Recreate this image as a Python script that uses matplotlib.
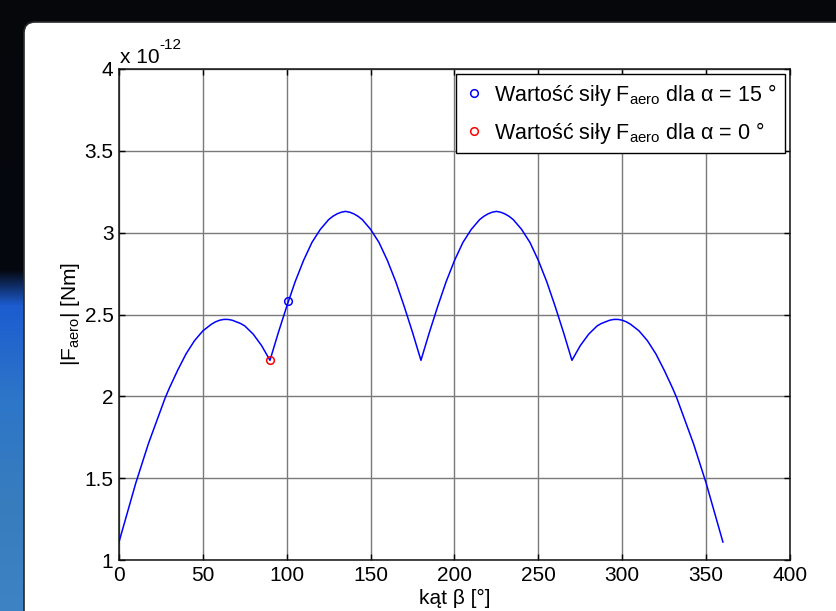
import numpy as np
import matplotlib
matplotlib.use('Agg')
from matplotlib import pyplot as plt
from matplotlib.patches import FancyBboxPatch
from matplotlib.transforms import IdentityTransform

plt.rcParams['font.family'] = ['Liberation Sans', 'DejaVu Sans']
plt.rcParams['mathtext.fontset'] = 'custom'
plt.rcParams['mathtext.rm'] = 'Liberation Sans'
plt.rcParams['mathtext.it'] = 'Liberation Sans:italic'

# DATA (|F_aero| in units of 1e-12 Nm, every 2.5 deg)

beta = np.arange(0, 362.5, 2.5)
# 0 .. 90
f_0_90 = [1.11, 1.20, 1.29, 1.38, 1.47, 1.55, 1.63, 1.71, 1.78, 1.85, 1.92, 1.99, 2.05,
          2.105, 2.16, 2.21, 2.26, 2.30, 2.34, 2.37, 2.40, 2.42, 2.44, 2.455, 2.465, 2.47,
          2.47, 2.465, 2.455, 2.445, 2.43, 2.405, 2.38, 2.345, 2.31, 2.265, 2.22]
# 92.5 .. 180
f_90_180 = [2.305, 2.39, 2.47, 2.55, 2.625, 2.70, 2.765, 2.83, 2.885, 2.94, 2.98, 3.02,
            3.05, 3.08, 3.10, 3.115, 3.125, 3.13, 3.125, 3.115, 3.10, 3.08, 3.05, 3.02,
            2.98, 2.94, 2.885, 2.83, 2.765, 2.70, 2.625, 2.55, 2.47, 2.39, 2.305, 2.22]
# 182.5 .. 270
f_180_270 = [2.305, 2.39, 2.47, 2.55, 2.625, 2.70, 2.765, 2.83, 2.885, 2.94, 2.98, 3.02,
             3.05, 3.08, 3.10, 3.115, 3.125, 3.13, 3.125, 3.115, 3.10, 3.08, 3.05, 3.02,
             2.98, 2.94, 2.885, 2.83, 2.765, 2.70, 2.625, 2.55, 2.47, 2.39, 2.305, 2.22]
# 272.5 .. 360
f_270_360 = [2.265, 2.31, 2.345, 2.38, 2.405, 2.43, 2.445, 2.455, 2.465, 2.47, 2.47,
             2.465, 2.455, 2.44, 2.42, 2.40, 2.37, 2.34, 2.30, 2.26, 2.21, 2.16, 2.105,
             2.05, 1.99, 1.92, 1.85, 1.78, 1.71, 1.63, 1.55, 1.47, 1.38, 1.29, 1.20, 1.11]
f_aero = f_0_90 + f_90_180 + f_180_270 + f_270_360

beta_a15 = [101]
f_a15 = [2.58]
beta_a0 = [90]
f_a0 = [2.22]

xticks = [0, 50, 100, 150, 200, 250, 300, 350, 400]
yticks = [1, 1.5, 2, 2.5, 3, 3.5, 4]

# FIGURE + BACKGROUND

W, H = 837, 611
fig = plt.figure(figsize=(W / 100, H / 100), dpi=100, facecolor='#05070b')

# blue strip down the left edge (space photo behind the slide)
bg = fig.add_axes([0, 0, 1, 1], zorder=-10)
bg.axis('off')
ys = np.arange(H)
stops_y = [0, 270, 305, 400, 500, 611]
stops_c = np.array([[5, 7, 11], [5, 8, 16], [28, 92, 208], [46, 118, 200], [55, 125, 190], [62, 132, 196]]) / 255.
col = np.stack([np.interp(ys, stops_y, stops_c[:, k]) for k in range(3)], axis=1)
img = np.repeat(col[:, None, :], 30, axis=1)
bg.imshow(img, extent=[0, 30, H, 0], aspect='auto')
bg.set_xlim(0, W)
bg.set_ylim(H, 0)

panel = FancyBboxPatch((24, -40), 900, H - 22 + 40,
                       boxstyle='round,pad=0,rounding_size=11',
                       transform=IdentityTransform(),
                       facecolor='white', edgecolor='#2a2a2a', lw=1.2, zorder=-5)
fig.add_artist(panel)

# PLOT

ax = fig.add_axes([119 / W, 1 - 560 / H, (790 - 119) / W, (560 - 69) / H])
ax.set_facecolor('white')

ax.plot(beta, f_aero, color='#0000ff', lw=1.1)
ax.plot(beta_a15, f_a15, 'o', mfc='none', mec='#0000ff', ms=5.5, mew=1.1,
        label='Wartość siły $\\mathregular{F_{aero}}$ dla α = 15 °')
ax.plot(beta_a0, f_a0, 'o', mfc='none', mec='#ff0000', ms=5.5, mew=1.1,
        label='Wartość siły $\\mathregular{F_{aero}}$ dla α = 0 °')

ax.set_xlim(0, 400)
ax.set_ylim(1, 4)
ax.set_xticks(xticks)
ax.set_yticks(yticks)
ax.set_xticklabels([str(v) for v in xticks])
ax.set_yticklabels(['%g' % v for v in yticks])
ax.grid(True, color='#7a7a7a', lw=1.0)
ax.set_axisbelow(True)
ax.tick_params(direction='in', length=4, width=1, top=True, right=True,
               labelsize=15, pad=4, colors='black')
for s in ax.spines.values():
    s.set_linewidth(1.1)
    s.set_color('#111111')

ax.set_xlabel('kąt β [°]', fontsize=15, labelpad=3)
ax.set_ylabel('|$\\mathregular{F_{aero}}$| [Nm]', fontsize=15, labelpad=2)

# MATLAB style exponent above the y axis
ax.annotate('x 10', xy=(0, 1), xycoords='axes fraction', xytext=(1, 6),
            textcoords='offset pixels', ha='left', va='baseline', fontsize=15)
ax.annotate('-12', xy=(0, 1), xycoords='axes fraction', xytext=(40, 20),
            textcoords='offset pixels', ha='left', va='baseline', fontsize=11)

leg = ax.legend(loc='upper right', fontsize=15.5, numpoints=1, handlelength=1.0,
                handletextpad=0.45, borderaxespad=0.25, borderpad=0.35,
                labelspacing=0.55, fancybox=False, framealpha=1)
leg.get_frame().set_edgecolor('black')
leg.get_frame().set_linewidth(1.0)

fig.savefig('out.png', dpi=100, facecolor=fig.get_facecolor())
